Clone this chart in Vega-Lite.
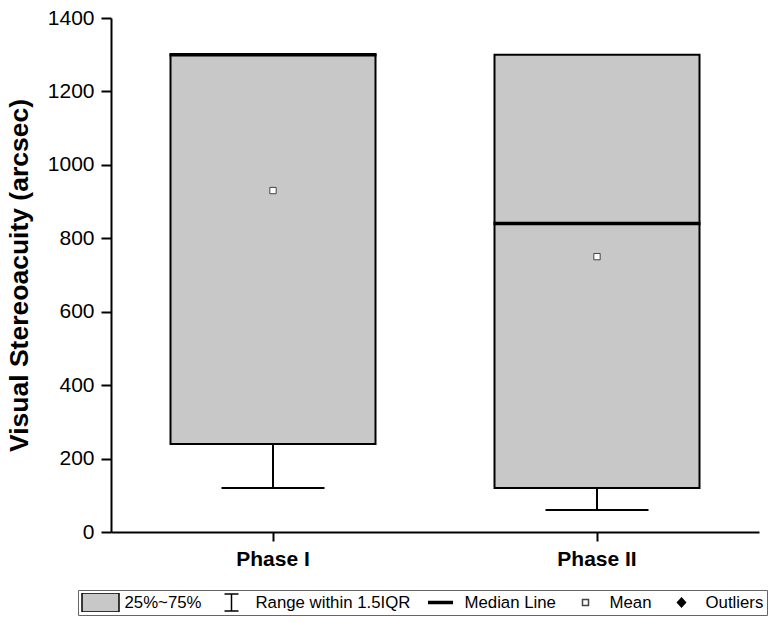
{
  "$schema": "https://vega.github.io/schema/vega-lite/v6.json",
  "width": 648,
  "height": 514,
  "autosize": {"type": "none"},
  "padding": {"left": 111, "top": 18, "right": 15, "bottom": 91},
  "background": "white",
  "config": {
    "view": {"stroke": null},
    "font": "Liberation Sans",
    "axis": {
      "domainColor": "black",
      "domainWidth": 2,
      "tickColor": "black",
      "tickWidth": 2,
      "labelColor": "black",
      "titleColor": "black",
      "grid": false,
      "labelFont": "Liberation Sans",
      "titleFont": "Liberation Sans"
    },
    "legend": {
      "labelFont": "Liberation Sans",
      "labelFontSize": 16.8,
      "labelColor": "black",
      "labelOffset": 4.5,
      "columnPadding": 10,
      "rowPadding": 0,
      "padding": 3,
      "strokeColor": "#666666",
      "symbolStrokeWidth": 1.5,
      "labelLimit": 400
    }
  },
  "datasets": {
    "stats": [
      {"phase": "Phase I", "q1": 240, "q3": 1300, "median": 1300, "mean": 930, "low": 120, "high": 1300},
      {"phase": "Phase II", "q1": 120, "q3": 1300, "median": 840, "mean": 750, "low": 60, "high": 1300}
    ],
    "legendItems": [
      {"item": "25%~75%"},
      {"item": "Range within 1.5IQR"},
      {"item": "Median Line"},
      {"item": "Mean"},
      {"item": "Outliers"}
    ]
  },
  "layer": [
    {
      "data": {"name": "stats"},
      "mark": {"type": "rule", "color": "black", "strokeWidth": 2},
      "encoding": {
        "x": {"field": "phase", "type": "nominal", "sort": null, "title": null,
              "scale": {"paddingInner": 0, "paddingOuter": 0},
              "axis": {"labelAngle": 0, "labelFontSize": 21, "labelFontWeight": "bold", "tickSize": 9, "labelPadding": 7}},
        "y": {"field": "low", "type": "quantitative", "title": "Visual Stereoacuity (arcsec)",
              "scale": {"domain": [0, 1400], "nice": false, "zero": true},
              "axis": {
                "values": [0, 100, 200, 300, 400, 500, 600, 700, 800, 900, 1000, 1100, 1200, 1300, 1400],
                "labelExpr": "datum.value % 200 === 0 ? datum.label : ''",
                "tickSize": {"condition": {"test": "datum.value % 200 === 0", "value": 10}, "value": 5},
                "labelFontSize": 21,
                "labelPadding": 7,
                "titleFontSize": 26.5,
                "titleFontWeight": "bold",
                "titlePadding": 14,
                "format": "d"
              }},
        "y2": {"field": "q1"}
      }
    },
    {
      "data": {"name": "stats"},
      "mark": {"type": "tick", "color": "black", "size": 103, "thickness": 2, "opacity": 1},
      "encoding": {
        "x": {"field": "phase", "type": "nominal", "sort": null, "title": null},
        "y": {"field": "low", "type": "quantitative", "title": "Visual Stereoacuity (arcsec)"}
      }
    },
    {
      "data": {"name": "stats"},
      "mark": {"type": "bar", "size": 205, "fill": "#c8c8c8", "stroke": "black", "strokeWidth": 2, "opacity": 1},
      "encoding": {
        "x": {"field": "phase", "type": "nominal", "sort": null, "title": null},
        "y": {"field": "q3", "type": "quantitative", "title": "Visual Stereoacuity (arcsec)"},
        "y2": {"field": "q1"}
      }
    },
    {
      "data": {"name": "stats"},
      "mark": {"type": "rule", "color": "black", "strokeWidth": 2},
      "encoding": {
        "x": {"field": "phase", "type": "nominal", "sort": null, "title": null},
        "y": {"field": "q3", "type": "quantitative", "title": "Visual Stereoacuity (arcsec)"},
        "y2": {"field": "high"}
      }
    },
    {
      "data": {"name": "stats"},
      "mark": {"type": "tick", "color": "black", "size": 207, "thickness": 3.5, "opacity": 1},
      "encoding": {
        "x": {"field": "phase", "type": "nominal", "sort": null, "title": null},
        "y": {"field": "median", "type": "quantitative", "title": "Visual Stereoacuity (arcsec)"}
      }
    },
    {
      "data": {"name": "stats"},
      "mark": {"type": "point", "shape": "square", "size": 40, "fill": "white", "stroke": "#444444", "strokeWidth": 1, "opacity": 1, "filled": false},
      "encoding": {
        "x": {"field": "phase", "type": "nominal", "sort": null, "title": null},
        "y": {"field": "mean", "type": "quantitative", "title": "Visual Stereoacuity (arcsec)"}
      }
    },
    {
      "data": {"name": "legendItems"},
      "mark": {"type": "point", "size": 1369, "strokeWidth": 1.5, "opacity": 1},
      "encoding": {
        "y": {"field": "v", "type": "quantitative", "title": "Visual Stereoacuity (arcsec)"},
        "shape": {
          "field": "item", "type": "nominal", "title": null,
          "scale": {
            "domain": ["25%~75%", "Range within 1.5IQR", "Median Line", "Mean", "Outliers"],
            "range": [
              "M-1,-0.514H1V0.514H-1Z",
              "M-0.378,-0.46H0.378M0,-0.46V0.46M-0.378,0.46H0.378",
              "M-0.676,-0.095H0.676V0.095H-0.676Z",
              "M-0.162,-0.162H0.162V0.162H-0.162Z",
              "M0,-0.243L0.216,0L0,0.243L-0.216,0Z"
            ]
          },
          "legend": {
            "orient": "none",
            "legendX": -33,
            "legendY": 572,
            "direction": "horizontal",
            "columns": 5,
            "title": null,
            "clipHeight": 19,
            "symbolSize": 1369
          }
        },
        "fill": {
          "field": "item", "type": "nominal", "title": null,
          "scale": {
            "domain": ["25%~75%", "Range within 1.5IQR", "Median Line", "Mean", "Outliers"],
            "range": ["#c8c8c8", "transparent", "black", "white", "black"]
          }
        },
        "stroke": {
          "field": "item", "type": "nominal", "title": null,
          "scale": {
            "domain": ["25%~75%", "Range within 1.5IQR", "Median Line", "Mean", "Outliers"],
            "range": ["black", "black", "transparent", "#444444", "black"]
          }
        }
      }
    }
  ]
}
